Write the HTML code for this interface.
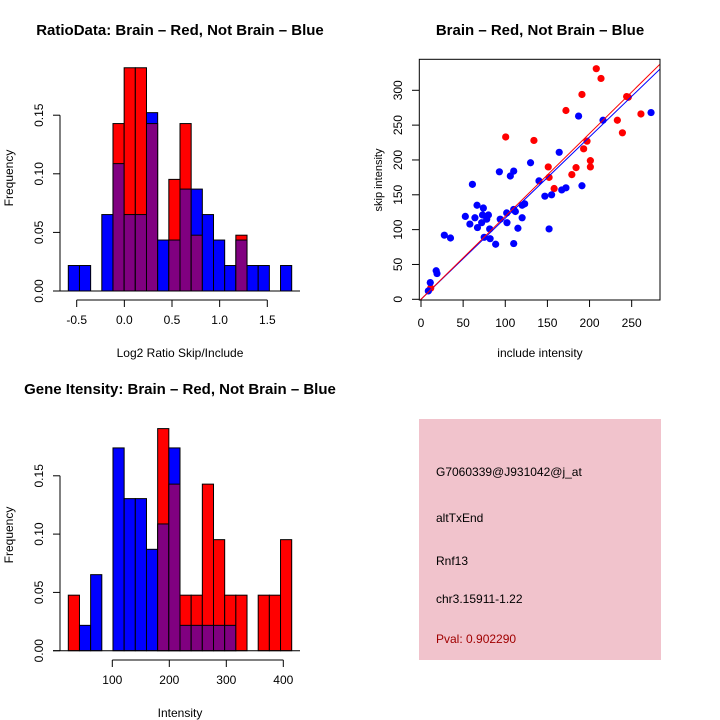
<!DOCTYPE html>
<html><head><meta charset="utf-8"><style>
body{margin:0;background:#fff}
svg{display:block;font-family:"Liberation Sans",sans-serif}
</style></head><body>
<svg id="c" width="720" height="720" viewBox="0 0 720 720" xmlns="http://www.w3.org/2000/svg">
<g id="g"></g>
</svg>
<script>
// Top-left histogram data (counts; blue n=46, red n=21)
const ratioBlue=[1,1,0,3,5,3,3,7,2,2,4,4,3,2,1,2,1,1,0,1];
const ratioRed=[0,0,0,0,3,4,4,3,0,2,3,1,0,0,0,1,0,0,0,0];
const ratioStart=-0.588, ratioBinW=0.1172;
const ratioXTicks=[-0.5,0,0.5,1,1.5];
const ratioXLabels=["-0.5","0.0","0.5","1.0","1.5"];
const freqTicks=[0,0.05,0.10,0.15];
const freqLabels=["0.00","0.05","0.10","0.15"];
// Bottom-left histogram
const intBlue=[0,1,3,0,8,6,6,4,5,8,1,1,1,1,1,0,0,0,0,0];
const intRed=[1,0,0,0,0,0,0,0,4,3,1,1,3,2,1,1,0,1,1,2];
const intStart=22.5, intBinW=19.6;
const intXTicks=[100,200,300,400];
// Scatter
const redX=[208,213.6,191,172,100.5,134,244,246,233,239,261,197,193,201,201,184,179,151,152,158,11.5];
const redY=[331,317,294,271,233,228,291,290,257,239,266,227,216,199,190,189,179,190,175,159,16];
const blueX=[273,187,216,164,130,93,110,106,140,191,167,172,147,155,152,61,66.5,74,52.6,64,58,67,72,73,80,78,94,101.7,102,110,112,120,123,120,115,81.5,82,88.6,110,75,27.7,35,18,19,11,8.7];
const blueY=[268,263,257,211,196,183,184,177,170,163,157,160,148,150,101,165,135,131,119,117,108,103,110,121,121,115,115,124,110,129,126,135,137,117,102,101,87,79,80,89,92,88,41,37,24,12];
const redSlope=1.19, blueSlope=1.165;
const scXTicks=[0,50,100,150,200,250];
const scYTicks=[0,50,100,150,200,250,300];

const NS="http://www.w3.org/2000/svg";
const G=document.getElementById('g');
function mk(tag,attrs,parent){const e=document.createElementNS(NS,tag);for(const k in attrs)e.setAttribute(k,attrs[k]);(parent||G).appendChild(e);return e;}
function txt(s,x,y,attrs){const e=mk('text',Object.assign({x:x,y:y,'font-size':12,'text-anchor':'middle',fill:'#000'},attrs||{}));e.textContent=s;return e;}

function hist(blue,red,nB,nR,start,bw,x0px,x1px,y0px,pxPer005,name){
  const n=blue.length;const w=(x1px-x0px)/n;
  const ys=v=>y0px-v/0.05*pxPer005;
  for(let i=0;i<n;i++){
    const b=blue[i]/nB, r=red[i]/nR;
    const x=x0px+i*w;
    const hi=Math.max(b,r), lo=Math.min(b,r);
    if(hi<=0)continue;
    const col=b>=r?'#0000ff':'#ff0000';
    const e=mk('rect',{x:x,y:ys(hi),width:w,height:y0px-ys(hi),fill:col,stroke:'#000','stroke-width':1});
    
    
    if(lo>0){
      const p=mk('rect',{x:x,y:ys(lo),width:w,height:y0px-ys(lo),fill:'#800080',stroke:'#000','stroke-width':1});
      
      
    }
  }
  return ys;
}
function yAxis(ys,x,ticks,labels,name){
  const a=mk('g',{});
  mk('line',{x1:x,x2:x,y1:ys(ticks[0]),y2:ys(ticks[ticks.length-1]),stroke:'#000'},a);
  ticks.forEach((t,i)=>{const y=ys(t);mk('line',{x1:x-7,x2:x,y1:y,y2:y,stroke:'#000'},a);
    const e=txt(labels[i],x-17,y,{transform:`rotate(-90 ${x-17} ${y})`,'font-size':12});a.appendChild(e);});
}
function xAxis(xs,y,ticks,labels,name){
  const a=mk('g',{});
  mk('line',{x1:xs(ticks[0]),x2:xs(ticks[ticks.length-1]),y1:y,y2:y,stroke:'#000'},a);
  ticks.forEach((t,i)=>{const x=xs(t);mk('line',{x1:x,x2:x,y1:y,y2:y+7,stroke:'#000'},a);
    a.appendChild(txt(labels[i],x,y+24,{'font-size':12}));});
}

// Panel 1
let t=txt('RatioData: Brain – Red, Not Brain – Blue',180,35,{'font-weight':'bold','font-size':15});

const ys1=hist(ratioBlue,ratioRed,46,21,ratioStart,ratioBinW,68.3,291.7,291,58.6,'ratio');
mk('line',{x1:53,x2:300,y1:291,y2:291,stroke:'#000'});
yAxis(ys1,60,freqTicks,freqLabels,'ratio-y-axis');
const xs1=v=>76.7+(v+0.5)*95.3;
xAxis(xs1,300,ratioXTicks,ratioXLabels,'ratio-x-axis');
t=txt('Log2 Ratio Skip/Include',180,357);
t=txt('Frequency',13,178,{transform:'rotate(-90 13 178)'});

// Panel 3
t=txt('Gene Itensity: Brain – Red, Not Brain – Blue',180,394,{'font-weight':'bold','font-size':15});

const ys3=hist(intBlue,intRed,46,21,intStart,intBinW,68.3,291.7,650.7,58.3,'intensity');
mk('line',{x1:53,x2:300,y1:650.7,y2:650.7,stroke:'#000'});
yAxis(ys3,60,freqTicks,freqLabels,'intensity-y-axis');
const xs3=v=>112.3+(v-100)*0.57;
xAxis(xs3,660,intXTicks,intXTicks.map(String),'intensity-x-axis');
t=txt('Intensity',180,717);
t=txt('Frequency',13,535,{transform:'rotate(-90 13 535)'});

// Panel 2 scatter
t=txt('Brain – Red, Not Brain – Blue',540,35,{'font-weight':'bold','font-size':15});

const sx=v=>421+v*0.8427, sy=v=>299.3-v*0.6967;
const clip=mk('clipPath',{id:'sc'});mk('rect',{x:419.3,y:59.3,width:240.7,height:240.7},clip);
const pts=mk('g',{'clip-path':'url(#sc)'});
for(let i=0;i<redX.length;i++){const c=mk('circle',{cx:sx(redX[i]),cy:sy(redY[i]),r:3.6,fill:'#ff0000'},pts);
  }
for(let i=0;i<blueX.length;i++){const c=mk('circle',{cx:sx(blueX[i]),cy:sy(blueY[i]),r:3.6,fill:'#0000ff'},pts);
  }
let l=mk('line',{x1:sx(-5),y1:sy(-5*blueSlope),x2:sx(300),y2:sy(300*blueSlope),stroke:'#0000ff','stroke-width':1},pts);

l=mk('line',{x1:sx(-5),y1:sy(-5*redSlope),x2:sx(300),y2:sy(300*redSlope),stroke:'#ff0000','stroke-width':1},pts);

mk('rect',{x:419.3,y:59.3,width:240.7,height:240.7,fill:'none',stroke:'#000'});
(function(){const a=mk('g',{});
scXTicks.forEach(v=>{const x=sx(v);mk('line',{x1:x,x2:x,y1:300,y2:307,stroke:'#000'},a);a.appendChild(txt(String(v),x,327));});
const b=mk('g',{});
scYTicks.forEach(v=>{const y=sy(v);mk('line',{x1:412,x2:419.3,y1:y,y2:y,stroke:'#000'},b);b.appendChild(txt(String(v),402,y,{transform:`rotate(-90 402 ${y})`}));});})();
t=txt('include intensity',540,357);
t=txt('skip intensity',382,180,{transform:'rotate(-90 382 180)','font-size':11});

// Info panel
const box=mk('rect',{x:419,y:419,width:242,height:241,fill:'#f1c3cc'});

[['G7060339@J931042@j_at',476,'#000','probe-id'],['altTxEnd',522,'#000','event-type'],['Rnf13',565,'#000','gene-name'],['chr3.15911-1.22',603,'#000','location'],['Pval: 0.902290',643,'#a00000','p-value']].forEach(r=>{
  const e=txt(r[0],436,r[1],{'text-anchor':'start',fill:r[2]});});
</script>
</body></html>
